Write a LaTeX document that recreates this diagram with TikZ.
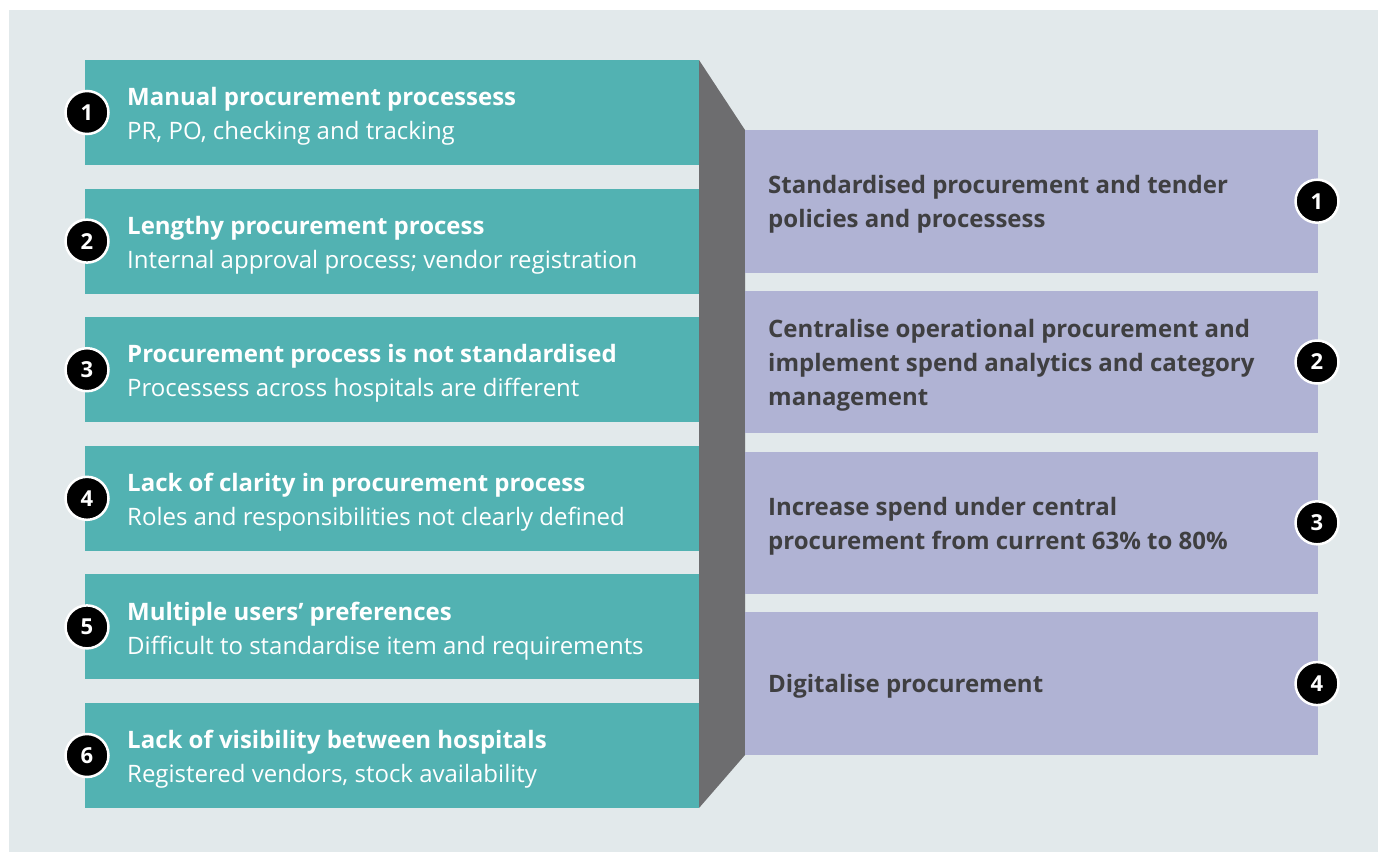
\documentclass[tikz,border=0pt]{standalone}
\usepackage{fontspec}
\setmainfont{Open Sans}
\definecolor{bgc}{HTML}{E2E9EB}
\definecolor{teal}{HTML}{52B2B2}
\definecolor{lav}{HTML}{B0B3D4}
\definecolor{grayc}{HTML}{6D6D6F}
\definecolor{txtc}{HTML}{3F3F41}
\tikzset{
  lbox/.style={fill=teal, draw=none},
  rbox/.style={fill=lav, draw=none},
  numc/.style={circle, fill=black, draw=white, line width=2.5pt, minimum size=43pt, inner sep=0pt, text=white, font=\fontsize{22}{22}\selectfont\bfseries},
  ltxt/.style={anchor=west, align=left, text=white, inner sep=0pt, font=\fontsize{24}{34}\selectfont},
  rtxt/.style={anchor=west, align=left, text=txtc, inner sep=0pt, font=\fontsize{24}{34}\selectfont\bfseries},
}
\begin{document}
\begin{tikzpicture}[x=1pt,y=-1pt]
\useasboundingbox (0,0) rectangle (1378,852);
\fill[white] (0,0) rectangle (1378,852);
\fill[bgc] (9,10) rectangle (1378,852);
% gray connector
\fill[grayc] (699,60) -- (745,130) -- (745,755) -- (699,808) -- cycle;
% left boxes
\foreach \i/\t/\s in {1/{Manual procurement processess}/{PR, PO, checking and tracking},
  2/{Lengthy procurement process}/{Internal approval process; vendor registration},
  3/{Procurement process is not standardised}/{Processess across hospitals are different},
  4/{Lack of clarity in procurement process}/{Roles and responsibilities not clearly defined},
  5/{Multiple users’ preferences}/{Difficult to standardise item and requirements},
  6/{Lack of visibility between hospitals}/{Registered vendors, stock availability}}{
  \pgfmathsetmacro{\ytop}{60+(\i-1)*128.6}
  \pgfmathsetmacro{\ybot}{\ytop+105}
  \pgfmathsetmacro{\yc}{\ytop+52.5}
  \fill[lbox] (85,\ytop) rectangle (699,\ybot);
  \node[ltxt] (lt\i) at (127,\yc+4) {\textbf{\t}\\\s};
  \node[numc] (ln\i) at (87,\yc) {\i};
}
% right boxes
\foreach \i/\t in {1/{Standardised procurement and tender\\policies and processess},
  2/{Centralise operational procurement and\\implement spend analytics and category\\management},
  3/{Increase spend under central\\procurement from current 63\% to 80\%},
  4/{Digitalise procurement}}{
  \pgfmathsetmacro{\ytop}{130+(\i-1)*160.8}
  \pgfmathsetmacro{\ybot}{\ytop+142.5}
  \pgfmathsetmacro{\yc}{\ytop+71.2}
  \fill[rbox] (745,\ytop) rectangle (1318,\ybot);
  \node[rtxt] (rt\i) at (768,\yc+3) {\t};
  \node[numc] (rn\i) at (1317,\yc) {\i};
}
\end{tikzpicture}
\end{document}
